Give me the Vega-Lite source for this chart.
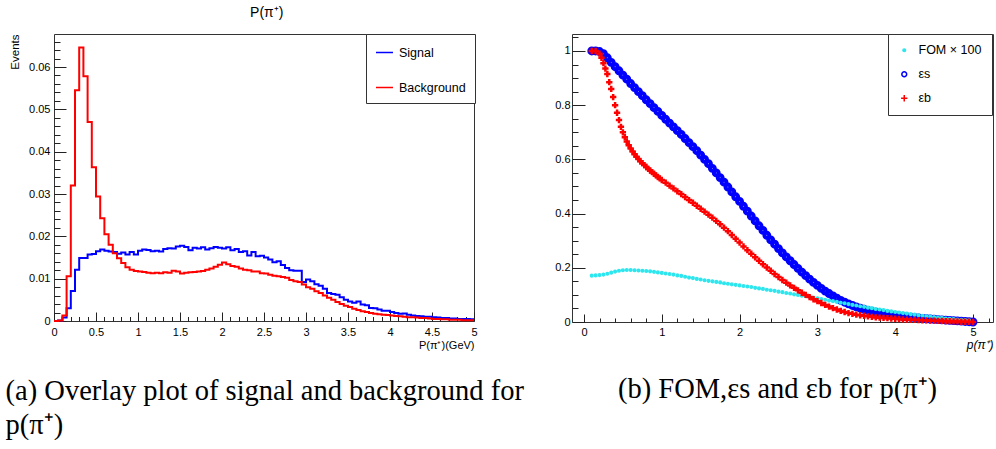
{
"$schema": "https://vega.github.io/schema/vega-lite/v6.json",
"padding": {"left": 5, "top": 5, "right": 0, "bottom": 0},
"title": {"text": "P(π⁺)", "orient": "top", "anchor": "start", "frame": "bounds", "dx": 245, "offset": 14, "fontSize": 14, "font": "Liberation Sans", "fontWeight": "normal", "color": "#000"},
"datasets": {
"hist": [
{"x":0,"sig":0,"bkg":0},{"x":0.05,"sig":0.0001,"bkg":0.0001},{"x":0.1,"sig":0.0008,"bkg":0.0013},{"x":0.15,"sig":0.003,"bkg":0.0106},{"x":0.2,"sig":0.0071,"bkg":0.032},
{"x":0.25,"sig":0.0121,"bkg":0.0545},{"x":0.3,"sig":0.0149,"bkg":0.0646},{"x":0.35,"sig":0.0149,"bkg":0.0578},{"x":0.4,"sig":0.0157,"bkg":0.047},{"x":0.45,"sig":0.0158,"bkg":0.0363},
{"x":0.5,"sig":0.0165,"bkg":0.0294},{"x":0.55,"sig":0.0169,"bkg":0.0243},{"x":0.6,"sig":0.0166,"bkg":0.0205},{"x":0.65,"sig":0.0164,"bkg":0.018},{"x":0.7,"sig":0.0163,"bkg":0.016},
{"x":0.75,"sig":0.0159,"bkg":0.0148},{"x":0.8,"sig":0.0162,"bkg":0.0137},{"x":0.85,"sig":0.0157,"bkg":0.0127},{"x":0.9,"sig":0.0163,"bkg":0.0121},{"x":0.95,"sig":0.0157,"bkg":0.0118},
{"x":1.0,"sig":0.0166,"bkg":0.0117},{"x":1.05,"sig":0.0169,"bkg":0.0116},{"x":1.1,"sig":0.0168,"bkg":0.0114},{"x":1.15,"sig":0.0165,"bkg":0.0113},{"x":1.2,"sig":0.0166,"bkg":0.0114},
{"x":1.25,"sig":0.0164,"bkg":0.0113},{"x":1.3,"sig":0.017,"bkg":0.0115},{"x":1.35,"sig":0.0172,"bkg":0.0114},{"x":1.4,"sig":0.0171,"bkg":0.0119},{"x":1.45,"sig":0.0176,"bkg":0.0117},
{"x":1.5,"sig":0.0178,"bkg":0.0112},{"x":1.55,"sig":0.0175,"bkg":0.0114},{"x":1.6,"sig":0.0167,"bkg":0.0115},{"x":1.65,"sig":0.0173,"bkg":0.0116},{"x":1.7,"sig":0.0171,"bkg":0.0117},
{"x":1.75,"sig":0.0174,"bkg":0.0118},{"x":1.8,"sig":0.0169,"bkg":0.0121},{"x":1.85,"sig":0.0172,"bkg":0.0124},{"x":1.9,"sig":0.0175,"bkg":0.0128},{"x":1.95,"sig":0.0173,"bkg":0.0133},
{"x":2.0,"sig":0.0171,"bkg":0.0138},{"x":2.05,"sig":0.0174,"bkg":0.0134},{"x":2.1,"sig":0.0167,"bkg":0.013},{"x":2.15,"sig":0.017,"bkg":0.0128},{"x":2.2,"sig":0.0163,"bkg":0.0124},
{"x":2.25,"sig":0.0165,"bkg":0.0121},{"x":2.3,"sig":0.0155,"bkg":0.012},{"x":2.35,"sig":0.0163,"bkg":0.0117},{"x":2.4,"sig":0.0153,"bkg":0.0117},{"x":2.45,"sig":0.0154,"bkg":0.0113},
{"x":2.5,"sig":0.015,"bkg":0.0112},{"x":2.55,"sig":0.0145,"bkg":0.0109},{"x":2.6,"sig":0.0139,"bkg":0.0107},{"x":2.65,"sig":0.0141,"bkg":0.0106},{"x":2.7,"sig":0.0132,"bkg":0.0104},
{"x":2.75,"sig":0.0125,"bkg":0.0102},{"x":2.8,"sig":0.012,"bkg":0.0097},{"x":2.85,"sig":0.0119,"bkg":0.0094},{"x":2.9,"sig":0.0119,"bkg":0.0092},{"x":2.95,"sig":0.0092,"bkg":0.0086},
{"x":3.0,"sig":0.0098,"bkg":0.008},{"x":3.05,"sig":0.0094,"bkg":0.0076},{"x":3.1,"sig":0.0087,"bkg":0.007},{"x":3.15,"sig":0.0083,"bkg":0.0066},{"x":3.2,"sig":0.0076,"bkg":0.006},
{"x":3.25,"sig":0.0066,"bkg":0.0055},{"x":3.3,"sig":0.0064,"bkg":0.005},{"x":3.35,"sig":0.0062,"bkg":0.0045},{"x":3.4,"sig":0.0056,"bkg":0.004},{"x":3.45,"sig":0.005,"bkg":0.0036},
{"x":3.5,"sig":0.0046,"bkg":0.0033},{"x":3.55,"sig":0.0043,"bkg":0.0029},{"x":3.6,"sig":0.0046,"bkg":0.0026},{"x":3.65,"sig":0.0039,"bkg":0.0023},{"x":3.7,"sig":0.0037,"bkg":0.0021},
{"x":3.75,"sig":0.0031,"bkg":0.0019},{"x":3.8,"sig":0.003,"bkg":0.0017},{"x":3.85,"sig":0.0027,"bkg":0.0016},{"x":3.9,"sig":0.0024,"bkg":0.0015},{"x":3.95,"sig":0.0024,"bkg":0.0014},
{"x":4.0,"sig":0.0021,"bkg":0.0013},{"x":4.05,"sig":0.0019,"bkg":0.0012},{"x":4.1,"sig":0.0017,"bkg":0.0011},{"x":4.15,"sig":0.0018,"bkg":0.001},{"x":4.2,"sig":0.0015,"bkg":0.0009},
{"x":4.25,"sig":0.0013,"bkg":0.0009},{"x":4.3,"sig":0.0012,"bkg":0.0008},{"x":4.35,"sig":0.0011,"bkg":0.0007},{"x":4.4,"sig":0.001,"bkg":0.0007},{"x":4.45,"sig":0.001,"bkg":0.0006},
{"x":4.5,"sig":0.0009,"bkg":0.0005},{"x":4.55,"sig":0.0008,"bkg":0.0005},{"x":4.6,"sig":0.0007,"bkg":0.0004},{"x":4.65,"sig":0.0007,"bkg":0.0004},{"x":4.7,"sig":0.0006,"bkg":0.0003},
{"x":4.75,"sig":0.0006,"bkg":0.0003},{"x":4.8,"sig":0.0005,"bkg":0.0003},{"x":4.85,"sig":0.0005,"bkg":0.0002},{"x":4.9,"sig":0.0005,"bkg":0.0002},{"x":4.95,"sig":0.0004,"bkg":0.0002},
{"x":5.0,"sig":0.0004,"bkg":0.0002}
],
"eff": [
{"x":0.1,"es":1.0,"fom":0.171,"eb":1.0},{"x":0.15,"es":1.0,"fom":0.172,"eb":1.0},{"x":0.2,"es":0.998,"fom":0.173,"eb":0.99},{"x":0.225,"eb":0.975},
{"x":0.25,"es":0.99,"fom":0.175,"eb":0.955},{"x":0.275,"eb":0.935},{"x":0.3,"es":0.975,"fom":0.178,"eb":0.915},{"x":0.325,"eb":0.885},
{"x":0.35,"es":0.958,"fom":0.182,"eb":0.86},{"x":0.375,"eb":0.83},{"x":0.4,"es":0.942,"fom":0.186,"eb":0.8},{"x":0.425,"eb":0.772},
{"x":0.45,"es":0.927,"fom":0.189,"eb":0.745},{"x":0.475,"eb":0.72},{"x":0.5,"es":0.911,"fom":0.191,"eb":0.7},{"x":0.525,"eb":0.682},
{"x":0.55,"es":0.896,"fom":0.192,"eb":0.666},{"x":0.575,"eb":0.652},{"x":0.6,"es":0.88,"fom":0.192,"eb":0.64},{"x":0.625,"eb":0.629},
{"x":0.65,"es":0.865,"fom":0.191,"eb":0.619},{"x":0.675,"eb":0.61},{"x":0.7,"es":0.85,"fom":0.19,"eb":0.601},{"x":0.725,"eb":0.593},
{"x":0.75,"es":0.835,"fom":0.189,"eb":0.586},{"x":0.775,"eb":0.579},{"x":0.8,"es":0.82,"fom":0.188,"eb":0.572},{"x":0.825,"eb":0.565},
{"x":0.85,"es":0.806,"fom":0.187,"eb":0.559},{"x":0.875,"eb":0.553},{"x":0.9,"es":0.791,"fom":0.185,"eb":0.547},{"x":0.925,"eb":0.541},
{"x":0.95,"es":0.777,"fom":0.183,"eb":0.535},{"x":0.975,"eb":0.53},{"x":1.0,"es":0.762,"fom":0.181,"eb":0.524},
{"x":1.05,"es":0.748,"fom":0.179,"eb":0.514},{"x":1.1,"es":0.734,"fom":0.177,"eb":0.503},{"x":1.15,"es":0.72,"fom":0.175,"eb":0.493},{"x":1.2,"es":0.706,"fom":0.172,"eb":0.482},
{"x":1.25,"es":0.692,"fom":0.17,"eb":0.472},{"x":1.3,"es":0.677,"fom":0.167,"eb":0.461},{"x":1.35,"es":0.662,"fom":0.164,"eb":0.45},{"x":1.4,"es":0.647,"fom":0.162,"eb":0.44},
{"x":1.45,"es":0.632,"fom":0.159,"eb":0.429},{"x":1.5,"es":0.616,"fom":0.157,"eb":0.418},{"x":1.55,"es":0.6,"fom":0.154,"eb":0.407},{"x":1.6,"es":0.584,"fom":0.152,"eb":0.396},
{"x":1.65,"es":0.567,"fom":0.15,"eb":0.385},{"x":1.7,"es":0.55,"fom":0.148,"eb":0.373},{"x":1.75,"es":0.533,"fom":0.146,"eb":0.361},{"x":1.8,"es":0.516,"fom":0.143,"eb":0.348},
{"x":1.85,"es":0.498,"fom":0.141,"eb":0.335},{"x":1.9,"es":0.48,"fom":0.139,"eb":0.321},{"x":1.95,"es":0.462,"fom":0.137,"eb":0.307},{"x":2.0,"es":0.445,"fom":0.135,"eb":0.293},
{"x":2.05,"es":0.427,"fom":0.133,"eb":0.279},{"x":2.1,"es":0.409,"fom":0.131,"eb":0.265},{"x":2.15,"es":0.391,"fom":0.129,"eb":0.252},{"x":2.2,"es":0.373,"fom":0.126,"eb":0.239},
{"x":2.25,"es":0.355,"fom":0.124,"eb":0.226},{"x":2.3,"es":0.338,"fom":0.122,"eb":0.213},{"x":2.35,"es":0.32,"fom":0.119,"eb":0.201},{"x":2.4,"es":0.303,"fom":0.117,"eb":0.189},
{"x":2.45,"es":0.287,"fom":0.115,"eb":0.177},{"x":2.5,"es":0.271,"fom":0.112,"eb":0.166},{"x":2.55,"es":0.255,"fom":0.11,"eb":0.155},{"x":2.6,"es":0.24,"fom":0.107,"eb":0.145},
{"x":2.65,"es":0.226,"fom":0.105,"eb":0.135},{"x":2.7,"es":0.212,"fom":0.102,"eb":0.126},{"x":2.75,"es":0.198,"fom":0.1,"eb":0.117},{"x":2.8,"es":0.184,"fom":0.097,"eb":0.108},
{"x":2.85,"es":0.171,"fom":0.095,"eb":0.1},{"x":2.9,"es":0.158,"fom":0.092,"eb":0.092},{"x":2.95,"es":0.146,"fom":0.09,"eb":0.084},{"x":3.0,"es":0.135,"fom":0.087,"eb":0.077},
{"x":3.05,"es":0.124,"fom":0.085,"eb":0.07},{"x":3.1,"es":0.114,"fom":0.082,"eb":0.063},{"x":3.15,"es":0.105,"fom":0.079,"eb":0.057},{"x":3.2,"es":0.096,"fom":0.077,"eb":0.051},
{"x":3.25,"es":0.088,"fom":0.074,"eb":0.046},{"x":3.3,"es":0.08,"fom":0.071,"eb":0.041},{"x":3.35,"es":0.073,"fom":0.069,"eb":0.037},{"x":3.4,"es":0.067,"fom":0.066,"eb":0.033},
{"x":3.45,"es":0.061,"fom":0.063,"eb":0.03},{"x":3.5,"es":0.056,"fom":0.061,"eb":0.027},{"x":3.55,"es":0.051,"fom":0.058,"eb":0.025},{"x":3.6,"es":0.047,"fom":0.056,"eb":0.023},
{"x":3.65,"es":0.043,"fom":0.053,"eb":0.021},{"x":3.7,"es":0.039,"fom":0.051,"eb":0.019},{"x":3.75,"es":0.036,"fom":0.048,"eb":0.017},{"x":3.8,"es":0.033,"fom":0.046,"eb":0.016},
{"x":3.85,"es":0.03,"fom":0.044,"eb":0.015},{"x":3.9,"es":0.028,"fom":0.041,"eb":0.014},{"x":3.95,"es":0.026,"fom":0.039,"eb":0.013},{"x":4.0,"es":0.024,"fom":0.037,"eb":0.012},
{"x":4.05,"es":0.022,"fom":0.035,"eb":0.011},{"x":4.1,"es":0.02,"fom":0.033,"eb":0.01},{"x":4.15,"es":0.019,"fom":0.031,"eb":0.009},{"x":4.2,"es":0.017,"fom":0.029,"eb":0.008},
{"x":4.25,"es":0.016,"fom":0.027,"eb":0.008},{"x":4.3,"es":0.015,"fom":0.025,"eb":0.007},{"x":4.35,"es":0.013,"fom":0.023,"eb":0.006},{"x":4.4,"es":0.012,"fom":0.021,"eb":0.006},
{"x":4.45,"es":0.011,"fom":0.02,"eb":0.005},{"x":4.5,"es":0.01,"fom":0.018,"eb":0.005},{"x":4.55,"es":0.009,"fom":0.016,"eb":0.004},{"x":4.6,"es":0.008,"fom":0.015,"eb":0.004},
{"x":4.65,"es":0.007,"fom":0.013,"eb":0.003},{"x":4.7,"es":0.006,"fom":0.012,"eb":0.003},{"x":4.75,"es":0.005,"fom":0.011,"eb":0.002},{"x":4.8,"es":0.004,"fom":0.009,"eb":0.002},
{"x":4.85,"es":0.003,"fom":0.008,"eb":0.001},{"x":4.9,"es":0.002,"fom":0.007,"eb":0.001},{"x":4.95,"es":0.001,"fom":0.006,"eb":0.001},{"x":5.0,"es":0.0,"eb":0.0}
]
},
"bounds": "flush",
"spacing": 98,
"hconcat": [
{
 "width": 420, "height": 287,
 "title": {"text": ["(a) Overlay plot of signal and background for", "p(π⁺)"], "orient": "bottom", "anchor": "start", "frame": "bounds", "dx": -4, "offset": 27, "font": "Liberation Serif", "fontSize": 28.5, "lineHeight": 34, "fontWeight": "normal", "color": "#000"},
 "data": {"name": "hist"},
 "resolve": {"axis": {"x": "independent", "y": "independent"}},
 "layer": [
  {"mark": {"type": "line", "interpolate": "step-after", "strokeWidth": 2},
   "encoding": {
    "x": {"field": "x", "type": "quantitative", "scale": {"domain": [0, 5], "nice": false, "zero": false},
          "axis": {"orient": "bottom", "values": [0,0.5,1,1.5,2,2.5,3,3.5,4,4.5,5], "format": "~g", "tickSize": -9, "labelPadding": 14, "labelFlush": false, "labelOverlap": false, "title": "P(π⁺)(GeV)", "titleAnchor": "end", "titleFontSize": 11, "titlePadding": 2}},
    "y": {"field": "sig", "type": "quantitative", "scale": {"domain": [0, 0.0678], "nice": false},
          "axis": {"orient": "left", "values": [0,0.01,0.02,0.03,0.04,0.05,0.06], "format": "~g", "tickSize": -12, "labelPadding": 16, "labelOverlap": false, "title": "Events", "titleAnchor": "end", "titleFontSize": 11.5, "titlePadding": 8}},
    "color": {"datum": "Signal", "type": "nominal", "scale": {"domain": ["Signal", "Background"], "range": ["#0000ff", "#ff0000"]},
              "legend": {"title": null, "orient": "none", "legendX": 312, "legendY": 0, "symbolType": "stroke", "symbolSize": 289, "symbolStrokeWidth": 1.5, "padding": 9, "labelFontSize": 12.5, "labelOffset": 5, "rowPadding": 19}}
   }},
  {"mark": {"type": "line", "interpolate": "step-after", "strokeWidth": 2},
   "encoding": {
    "x": {"field": "x", "type": "quantitative",
          "axis": {"orient": "bottom", "values": [0.1,0.2,0.3,0.4,0.6,0.7,0.8,0.9,1.1,1.2,1.3,1.4,1.6,1.7,1.8,1.9,2.1,2.2,2.3,2.4,2.6,2.7,2.8,2.9,3.1,3.2,3.3,3.4,3.6,3.7,3.8,3.9,4.1,4.2,4.3,4.4,4.6,4.7,4.8,4.9], "labels": false, "tickSize": -4.5, "title": null}},
    "y": {"field": "bkg", "type": "quantitative",
          "axis": {"orient": "left", "values": [0.002,0.004,0.006,0.008,0.012,0.014,0.016,0.018,0.022,0.024,0.026,0.028,0.032,0.034,0.036,0.038,0.042,0.044,0.046,0.048,0.052,0.054,0.056,0.058,0.062,0.064,0.066], "labels": false, "tickSize": -6, "title": null}},
    "color": {"datum": "Background", "type": "nominal"}
   }}
 ]
},
{
 "width": 421, "height": 288,
 "title": {"text": "(b) FOM,εs and εb for p(π⁺)", "orient": "bottom", "anchor": "middle", "frame": "group", "dx": -5, "offset": 25, "font": "Liberation Serif", "fontSize": 28.5, "fontWeight": "normal", "color": "#000"},
 "data": {"name": "eff"},
 "resolve": {"axis": {"x": "independent", "y": "independent"}},
 "layer": [
  {"mark": {"type": "point", "strokeWidth": 4, "opacity": 1},
   "encoding": {
    "x": {"field": "x", "type": "quantitative", "scale": {"domain": [-0.154, 5.257], "nice": false, "zero": false},
          "axis": {"orient": "bottom", "values": [0,1,2,3,4,5], "format": "~g", "tickSize": -8, "labelPadding": 12, "labelFlush": false, "labelOverlap": false, "title": "p(π⁺)", "titleAnchor": "end", "titleFontStyle": "italic", "titleFontSize": 12, "titlePadding": 2}},
    "y": {"field": "es", "type": "quantitative", "scale": {"domain": [0, 1.0627], "nice": false},
          "axis": {"orient": "left", "values": [0,0.2,0.4,0.6,0.8,1], "format": "~g", "tickSize": -13, "labelPadding": 15, "labelOverlap": false, "title": null}},
    "shape": {"datum": "εs", "type": "nominal", "scale": {"domain": ["FOM × 100", "εs", "εb"], "range": ["circle", "circle", "M-1,0H1M0,-1V1"]}, "legend": {"title": null, "orient": "none", "legendX": 834, "legendY": 0, "symbolStrokeWidth": 1.5}},
    "fill": {"datum": "εs", "type": "nominal", "scale": {"domain": ["FOM × 100", "εs", "εb"], "range": ["#2ee6ee", "transparent", "transparent"]}, "legend": {"title": null}},
    "stroke": {"datum": "εs", "type": "nominal", "scale": {"domain": ["FOM × 100", "εs", "εb"], "range": ["#2ee6ee", "#0000ff", "#ff0000"]}, "legend": {"title": null}},
    "size": {"datum": "εs", "type": "ordinal", "scale": {"domain": ["FOM × 100", "εs", "εb"], "range": [7, 40, 100]}, "legend": {"title": null}}
   }},
  {"mark": {"type": "point", "strokeWidth": 1.5, "opacity": 1},
   "encoding": {
    "x": {"field": "x", "type": "quantitative",
          "axis": {"orient": "bottom", "values": [0.2,0.4,0.6,0.8,1.2,1.4,1.6,1.8,2.2,2.4,2.6,2.8,3.2,3.4,3.6,3.8,4.2,4.4,4.6,4.8,5.2], "labels": false, "tickSize": -4, "title": null}},
    "y": {"field": "fom", "type": "quantitative",
          "axis": {"orient": "left", "values": [0.05,0.1,0.15,0.25,0.3,0.35,0.45,0.5,0.55,0.65,0.7,0.75,0.85,0.9,0.95,1.05], "labels": false, "tickSize": -6, "title": null}},
    "shape": {"datum": "FOM × 100", "type": "nominal"},
    "fill": {"datum": "FOM × 100", "type": "nominal"},
    "stroke": {"datum": "FOM × 100", "type": "nominal"},
    "size": {"datum": "FOM × 100", "type": "ordinal"}
   }},
  {"mark": {"type": "point", "strokeWidth": 2.5, "opacity": 1},
   "encoding": {
    "x": {"field": "x", "type": "quantitative", "axis": null},
    "y": {"field": "eb", "type": "quantitative", "axis": null},
    "shape": {"datum": "εb", "type": "nominal"},
    "fill": {"datum": "εb", "type": "nominal"},
    "stroke": {"datum": "εb", "type": "nominal"},
    "size": {"datum": "εb", "type": "ordinal"}
   }}
 ]
}
],
"config": {
 "view": {"stroke": "#333", "strokeWidth": 1},
 "axis": {"labelFont": "Liberation Sans", "labelFontSize": 11, "labelColor": "#000", "titleFont": "Liberation Sans", "titleFontWeight": "normal", "titleColor": "#000", "tickColor": "#222", "tickWidth": 1, "domain": false, "grid": false},
 "legend": {"strokeColor": "#333", "fillColor": "#fff", "labelFont": "Liberation Sans", "labelColor": "#000", "labelFontSize": 12.5, "padding": 10, "labelOffset": 8, "rowPadding": 11, "symbolStrokeWidth": 1.5, "cornerRadius": 0},
 "title": {"font": "Liberation Sans", "fontWeight": "normal", "color": "#000"}
}
}
